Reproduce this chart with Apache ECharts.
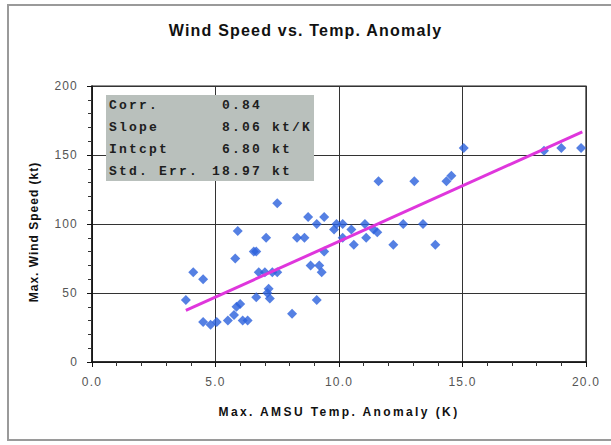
<!DOCTYPE html>
<html><head><meta charset="utf-8">
<script src="https://cdn.jsdelivr.net/npm/echarts@6/dist/echarts.min.js"></script>
<style>
html,body{margin:0;padding:0;background:#fff;}
#c{width:611px;height:445px;}
</style></head><body><div id="c"></div>
<script>
// ---- data ----
const titleText = 'Wind Speed vs. Temp. Anomaly';
const xAxisName = 'Max. AMSU Temp. Anomaly (K)';
const yAxisName = 'Max. Wind Speed (kt)';
const tempAnomaly = [3.8, 4.1, 4.5, 4.5, 4.8, 5.05, 5.5, 5.75, 5.85, 6.0, 5.8, 5.9, 6.1, 6.3, 6.55, 6.65, 6.65, 6.75, 7.0, 7.05,
  7.1, 7.15, 7.2, 7.3, 7.5, 7.5, 8.1, 8.3, 8.6, 8.75, 8.85, 9.1, 9.1, 9.2, 9.3, 9.4, 9.4, 9.8, 9.9, 10.15,
  10.15, 10.5, 10.6, 11.05, 11.1, 11.4, 11.55, 11.6, 12.2, 12.6, 13.05, 13.4, 13.9, 14.35, 14.55, 15.05, 18.3, 19.0, 19.8];
const windSpeed = [45, 65, 60, 29, 27, 29, 30, 34, 40, 42, 75, 95, 30, 30, 80, 80, 47, 65, 65, 90,
  50, 53, 46, 65, 65, 115, 35, 90, 90, 105, 70, 45, 100, 70, 65, 80, 105, 96, 100, 100,
  90, 96, 85, 100, 90, 96, 94, 131, 85, 100, 131, 100, 85, 131, 135, 155, 153, 155, 155];
const fitX = [3.8, 19.85];
const fitY = [37.4, 166.8];
const statLabels = ['Corr.', 'Slope', 'Intcpt', 'Std. Err.'];
const statValues = ['0.84', '8.06', '6.80', '18.97'];
const statUnits = ['', 'kt/K', 'kt', 'kt'];
const xTicks = [0, 5, 10, 15, 20];
const xTickLabels = ['0.0', '5.0', '10.0', '15.0', '20.0'];
const yTicks = [0, 50, 100, 150, 200];
const yTickLabels = ['0', '50', '100', '150', '200'];

const points = tempAnomaly.map((x, i) => [x, windSpeed[i]]);
const fitLine = fitX.map((x, i) => [x, fitY[i]]);

const SANS = '"Liberation Sans", Arial, sans-serif';
const MONO = '"Liberation Mono", "Courier New", monospace';

const graphics = [
  { type: 'rect', shape: { x: 8, y: 5, width: 620, height: 435 }, style: { fill: 'none', stroke: '#9a9a9a', lineWidth: 2 }, z: 0, silent: true },
  { type: 'rect', shape: { x: 106, y: 95, width: 208, height: 86 }, style: { fill: '#b9c0bc' }, z: 100 }
];
statLabels.forEach((lab, i) => {
  const y = 105 + i * 22.3;
  graphics.push({ type: 'text', x: 109, y: y, z: 101, style: { text: lab, font: 'bold 13px ' + MONO, fill: '#1e1e1e', textAlign: 'left', textVerticalAlign: 'middle' } });
  graphics.push({ type: 'text', x: 262, y: y, z: 101, style: { text: statValues[i], font: 'bold 13px ' + MONO, fill: '#1e1e1e', textAlign: 'right', textVerticalAlign: 'middle' } });
  if (statUnits[i]) graphics.push({ type: 'text', x: 272, y: y, z: 101, style: { text: statUnits[i], font: 'bold 13px ' + MONO, fill: '#1e1e1e', textAlign: 'left', textVerticalAlign: 'middle' } });
});

const chart = echarts.init(document.getElementById('c'), null, { renderer: 'svg' });
chart.setOption({
  animation: false,
  backgroundColor: '#fff',
  title: {
    text: titleText, left: 'center', top: 22, padding: [0, 0, 0, 10],
    textStyle: { fontFamily: SANS, fontSize: 16, fontWeight: 'bold', color: '#111' }
  },
  grid: { left: 92, top: 86, width: 494, height: 276, show: true, borderColor: '#222', borderWidth: 1.2, backgroundColor: '#fff' },
  xAxis: {
    type: 'value', min: 0, max: 20, interval: 5,
    name: xAxisName, nameLocation: 'middle', nameGap: 44,
    nameTextStyle: { fontFamily: SANS, fontSize: 12, fontWeight: 'bold', color: '#111' },
    axisLine: { show: true, lineStyle: { color: '#111', width: 1.5 } },
    axisTick: { show: true, length: 5, lineStyle: { color: '#111' } },
    minorTick: { show: true, splitNumber: 5, length: 4, lineStyle: { color: '#333' } },
    splitLine: { show: true, lineStyle: { color: '#333', width: 1 } },
    axisLabel: { margin: 14, fontFamily: SANS, fontSize: 12, color: '#555',
      formatter: v => xTickLabels[xTicks.indexOf(v)] }
  },
  yAxis: {
    type: 'value', min: 0, max: 200, interval: 50,
    name: yAxisName, nameLocation: 'middle', nameGap: 52,
    nameTextStyle: { fontFamily: SANS, fontSize: 12, fontWeight: 'bold', color: '#111', padding: [0, 16, 0, 0] },
    axisLine: { show: true, lineStyle: { color: '#111', width: 1.5 } },
    axisTick: { show: true, length: 5, lineStyle: { color: '#111' } },
    minorTick: { show: true, splitNumber: 5, length: 4, lineStyle: { color: '#333' } },
    splitLine: { show: true, lineStyle: { color: '#333', width: 1 } },
    axisLabel: { margin: 14, fontFamily: SANS, fontSize: 12, color: '#555',
      formatter: v => yTickLabels[yTicks.indexOf(v)] }
  },
  series: [
    { type: 'scatter', data: points, symbol: 'diamond', symbolSize: [10, 10],
      itemStyle: { color: '#2a60dc' }, z: 3 },
    { type: 'line', data: fitLine, showSymbol: false, symbol: 'none',
      lineStyle: { color: '#df36dc', width: 3 }, z: 4 }
  ],
  graphic: graphics
});

// letter spacing like the reference typography
function spaceText() {
  const spacing = {};
  spacing[titleText] = '1.2px';
  spacing[xAxisName] = '2.4px';
  spacing[yAxisName] = '1px';
  document.querySelectorAll('#c svg text').forEach(t => {
    const s = t.textContent;
    let ls = '1.2px';
    if (spacing[s]) ls = spacing[s];
    else if (statLabels.includes(s) || statValues.includes(s) || statUnits.includes(s)) ls = '2.2px';
    t.style.letterSpacing = ls;
  });
}
spaceText();
chart.on('finished', spaceText);
</script></body></html>
